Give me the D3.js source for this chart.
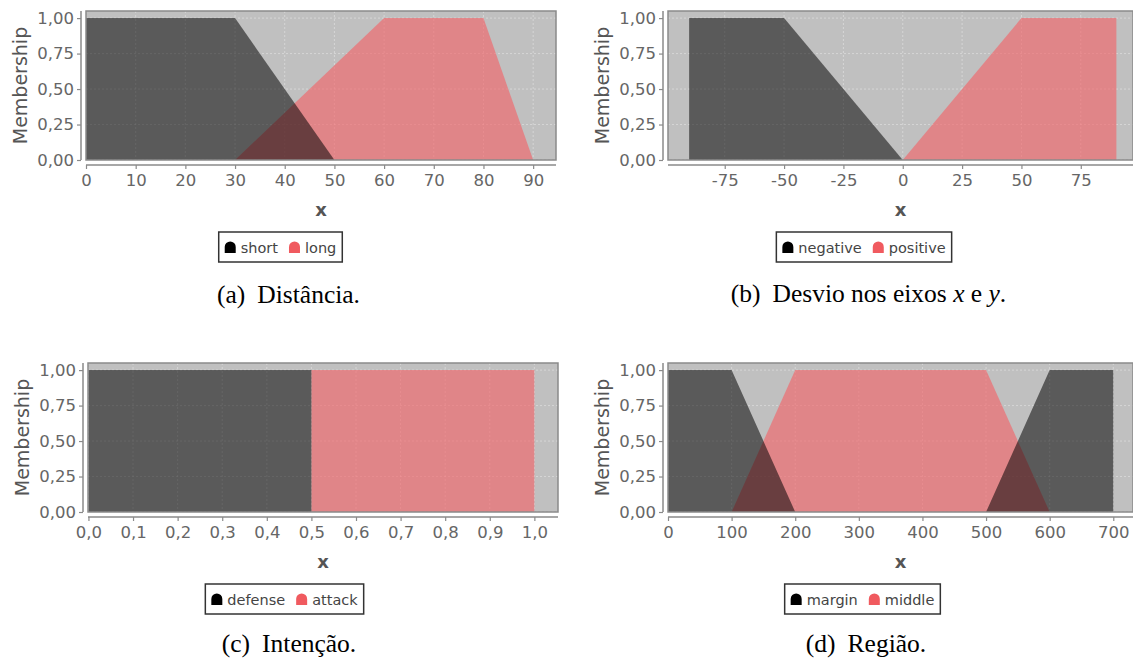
<!DOCTYPE html>
<html><head><meta charset="utf-8">
<script src="https://cdn.jsdelivr.net/npm/d3@7"></script>
<style>body{margin:0;background:#fff}svg{display:block}</style>
</head><body>
<svg id="c" width="1133" height="662"></svg>
<script>
// ---------- data ----------
const yTicks = [0, 0.25, 0.5, 0.75, 1];

const distShort = [[0,1],[30,1],[50,0]];
const distLong  = [[30,0],[60,1],[80,1],[90,0]];
const distTicks = [0,10,20,30,40,50,60,70,80,90];

const devNegative = [[-90,1],[-50,1],[0,0]];
const devPositive = [[0,0],[50,1],[90,1]];
const devTicks = [-75,-50,-25,0,25,50,75];

const intDefense = [[0,1],[0.5,1]];
const intAttack  = [[0.5,1],[1,1]];
const intTicks = [0,0.1,0.2,0.3,0.4,0.5,0.6,0.7,0.8,0.9,1];

const regMargin = [[0,1],[100,1],[200,0],[500,0],[600,1],[700,1]];
const regMiddle = [[100,0],[200,1],[500,1],[600,0]];
const regTicks = [0,100,200,300,400,500,600,700];

const panels = [
  {dark: distShort, red: distLong, names:["short","long"], ticks: distTicks, dom:[0,94.6], fmt:",.0f",
   caption:"(a)", captionText:"Distância.",
   L:86, R:556, T:11, B:160, lgCx:280.5, lgT:232, capCx:282.5, capY:303},
  {dark: devNegative, red: devPositive, names:["negative","positive"], ticks: devTicks, dom:[-98.9,97], fmt:",.0f",
   caption:"(b)", captionText:"Desvio nos eixos", math:true,
   L:668, R:1133, T:11, B:160, lgCx:864, lgT:232, capCx:862.5, capY:302},
  {dark: intDefense, red: intAttack, names:["defense","attack"], ticks: intTicks, dom:[-0.001,1.053], fmt:",.1f",
   caption:"(c)", captionText:"Intenção.",
   L:88, R:558, T:363, B:512, lgCx:284.5, lgT:584, capCx:283, capY:652},
  {dark: regMargin, red: regMiddle, names:["margin","middle"], ticks: regTicks, dom:[0,731], fmt:",.0f",
   caption:"(d)", captionText:"Região.",
   L:668, R:1133, T:363, B:512, lgCx:862.5, lgT:584, capCx:860, capY:652}
];

// ---------- drawing ----------
const loc = d3.formatLocale({decimal:",", thousands:".", grouping:[3], currency:["",""], minus:"-"});
const svg = d3.select("#c");
const SANS = "DejaVu Sans, sans-serif";
const SERIF = "Liberation Serif, Times New Roman, serif";

panels.forEach(p => {
  const g = svg.append("g");
  const x = d3.scaleLinear().domain(p.dom).range([p.L, p.R]);
  const y = d3.scaleLinear().domain([0, 1.05]).range([p.B, p.T]);

  g.append("rect").attr("x", p.L).attr("y", p.T).attr("width", p.R - p.L).attr("height", p.B - p.T)
    .attr("fill", "#c0c0c0");

  g.append("g").selectAll("line").data(p.ticks).join("line")
    .attr("x1", d => x(d)).attr("x2", d => x(d)).attr("y1", p.T).attr("y2", p.B)
    .attr("stroke", "#fff").attr("stroke-opacity", 0.35).attr("stroke-dasharray", "2,2");
  g.append("g").selectAll("line").data(yTicks).join("line")
    .attr("y1", d => y(d)).attr("y2", d => y(d)).attr("x1", p.L).attr("x2", p.R)
    .attr("stroke", "#fff").attr("stroke-opacity", 0.35).attr("stroke-dasharray", "2,2");

  const area = d3.area().x(d => x(d[0])).y0(y(0)).y1(d => y(d[1]));
  g.append("path").attr("d", area(p.red)).attr("fill", "rgb(241,101,106)").attr("fill-opacity", 0.65);
  g.append("path").attr("d", area(p.dark)).attr("fill", "#000").attr("fill-opacity", 0.53);

  g.append("rect").attr("x", p.L).attr("y", p.T).attr("width", p.R - p.L).attr("height", p.B - p.T)
    .attr("fill", "none").attr("stroke", "#8a8a8a").attr("stroke-width", 1.5);

  const yAx = g.append("g").attr("transform", `translate(${p.L - 5},0)`)
    .call(d3.axisLeft(y).tickValues(yTicks).tickFormat(loc.format(",.2f")).tickSize(4).tickPadding(3));
  yAx.select(".domain").attr("d", `M0,${p.T}V${p.B}`);
  const xAx = g.append("g").attr("transform", `translate(0,${p.B + 5})`)
    .call(d3.axisBottom(x).tickValues(p.ticks).tickFormat(loc.format(p.fmt)).tickSize(4).tickPadding(5));
  xAx.select(".domain").attr("d", `M${p.L},0H${p.R}`);
  [yAx, xAx].forEach(a => {
    a.select(".domain").attr("stroke", "#8a8a8a").attr("stroke-width", 1.5);
    a.selectAll(".tick line").attr("stroke", "#8a8a8a").attr("stroke-width", 1.2);
    a.selectAll(".tick text").attr("fill", "#666").attr("font-family", SANS).attr("font-size", 16.5);
  });

  g.append("text").attr("transform", `translate(${p.L - 66},${(p.T + p.B) / 2}) rotate(-90)`)
    .attr("text-anchor", "middle").attr("dy", "0.35em").attr("font-family", SANS).attr("font-size", 19)
    .attr("fill", "#555").text("Membership");
  g.append("text").attr("x", (p.L + p.R) / 2).attr("y", p.B + 56).attr("text-anchor", "middle")
    .attr("font-family", SANS).attr("font-size", 18).attr("font-weight", "bold").attr("fill", "#555").text("x");

  const lg = g.append("g");
  const items = [{n: p.names[0], c: "#000"}, {n: p.names[1], c: "#f05a5f"}];
  let cx = 0;
  const parts = [];
  items.forEach((it, i) => {
    const sx = cx;
    const t = lg.append("text").attr("font-family", SANS).attr("font-size", 14.5).attr("fill", "#444").text(it.n);
    const w = t.node().getComputedTextLength();
    parts.push({sx, t, it});
    cx += 11 + 5 + w + (i === 0 ? 11 : 0);
  });
  const totalW = cx + 12;
  const bx = p.lgCx - totalW / 2;
  lg.insert("rect", ":first-child").attr("x", bx).attr("y", p.lgT).attr("width", totalW).attr("height", 30)
    .attr("fill", "#fff").attr("stroke", "#333").attr("stroke-width", 1.5);
  parts.forEach(pt => {
    const sx = bx + 6 + pt.sx;
    const sy = p.lgT + 10;
    lg.append("path").attr("d", `M${sx},${sy + 11}V${sy + 5}A5.5,5.5 0 0 1 ${sx + 11},${sy + 5}V${sy + 11}Z`)
      .attr("fill", pt.it.c);
    pt.t.attr("x", sx + 16).attr("y", p.lgT + 21);
  });

  const cap = g.append("text").attr("y", p.capY).attr("font-family", SERIF).attr("font-size", 25.5).attr("fill", "#000");
  cap.append("tspan").text(p.caption);
  cap.append("tspan").attr("dx", 12).text(p.captionText);
  if (p.math) {
    cap.append("tspan").text(" ");
    cap.append("tspan").attr("font-style", "italic").text("x");
    cap.append("tspan").text(" e ");
    cap.append("tspan").attr("font-style", "italic").text("y");
    cap.append("tspan").text(".");
  }
  const cw = cap.node().getComputedTextLength();
  cap.attr("x", p.capCx - cw / 2);
});
</script>
</body></html>
